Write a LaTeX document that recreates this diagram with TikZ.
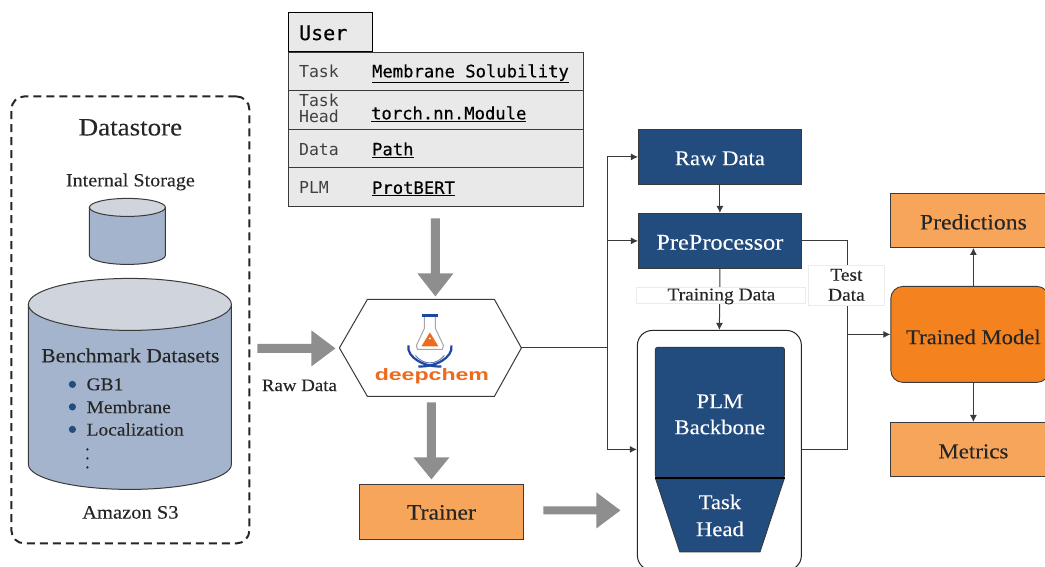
\documentclass[tikz,border=0pt]{standalone}
\usepackage{fontspec}
\setmainfont{Liberation Serif}[FakeStretch=1.08,FakeBold=0.15]
\setmonofont{DejaVu Sans Mono}
\newfontfamily\logofont{Liberation Sans Bold}[FakeStretch=1.4]
\newfontfamily\monomed{DejaVu Sans Mono}[FakeBold=0.35]
\usetikzlibrary{arrows.meta,shapes.geometric,positioning}
\definecolor{navy}{HTML}{224B7E}
\definecolor{lightorange}{HTML}{F6A55A}
\definecolor{deeporange}{HTML}{F4831F}
\definecolor{cylblue}{HTML}{A3B4CC}
\definecolor{cyltop}{HTML}{D0D4DC}
\definecolor{tablegray}{HTML}{E9E9E9}
\definecolor{arrowgray}{HTML}{8E8E8E}
\definecolor{linegray}{HTML}{3A3A3A}
\definecolor{dcorange}{HTML}{EE6A1F}
\definecolor{dcblue}{HTML}{1F47A0}
\newcommand{\lowered}[2]{\raisebox{-#1}[\height][\depth]{#2}}
\tikzset{
  x=1pt,y=-1pt,
  txt/.style={font=\fontsize{#1}{#1}\selectfont,text=black!85,inner sep=0pt},
  bluebox/.style={draw=linegray,line width=.9pt,fill=navy,text=white,inner sep=0pt,font=\fontsize{21}{24}\selectfont,align=center},
  orangebox/.style={draw=linegray,line width=.9pt,fill=lightorange,text=black!85,inner sep=0pt},
  wire/.style={draw=linegray,line width=1pt},
  wirearrow/.style={wire,-{Latex[length=7pt,width=7pt]}},
  bigarrow/.style={draw=none,fill=arrowgray},
  tablecell/.style={draw=linegray,line width=.9pt,fill=tablegray,inner sep=0pt,minimum width=295pt},
  monolabel/.style={font=\ttfamily\fontsize{16.5}{16}\selectfont,text=black!75,inner sep=0pt,anchor=base west,align=left},
  monovalue/.style={font=\monomed\fontsize{17.2}{17}\selectfont,text=black,inner sep=0pt,anchor=base west},
  whitelabel/.style={draw=black!8,line width=.5pt,fill=white,inner sep=0pt,text=black!85,font=\fontsize{18}{20}\selectfont,align=center},
  cylfill/.style={draw=linegray,line width=1pt,fill=cylblue},
  cyltopfill/.style={draw=linegray,line width=1pt,fill=cyltop},
}
\begin{document}
\begin{tikzpicture}
\useasboundingbox (0,0) rectangle (1045,566);
\clip (0,0) rectangle (1045,566);
\fill[white] (0,0) rectangle (1045,566);
\begin{scope}[shift={(-0.6,-0.6)}]
% Datastore
\node[draw=black!85,line width=2pt,dash pattern=on 8pt off 5pt,rounded corners=13pt,minimum width=238pt,minimum height=447pt,inner sep=0pt] (store) at (131,320.5) {};
\node[txt=25] (storetitle) at (131,128) {Datastore};
\node[txt=18.6] (internal) at (131,182.5) {Internal Storage};
% small cylinder
\path[cylfill] (90,208) -- (90,256) arc[start angle=180,end angle=360,x radius=38,y radius=-9] -- (166,208) -- cycle;
\path[cyltopfill] (128,208) ellipse[x radius=38,y radius=9];
% big cylinder
\path[cylfill] (29,305) -- (29,465) arc[start angle=180,end angle=360,x radius=101.5,y radius=-25] -- (232,305) -- cycle;
\path[cyltopfill] (130.5,305) ellipse[x radius=101.5,y radius=26];
\node[txt=20] (bench) at (131,356) {Benchmark Datasets};
\foreach \yy/\tt/\nn in {385/GB1/a,407.5/Membrane/b,430/Localization/c}{
  \fill[navy] (73,\yy) circle[radius=3.6];
  \node[txt=18,anchor=west] (ds\nn) at (87,\yy) {\tt};
}
\foreach \yy in {450,459,468}{\fill[black!85] (88,\yy) circle[radius=1.3];}
\node[txt=19] (s3) at (131,513) {Amazon S3};

% User table
\node[draw=black,line width=1pt,fill=tablegray,minimum width=84pt,minimum height=39pt,inner sep=0pt] (user) at (331,32.5) {};
\node[font=\monomed\fontsize{20}{20}\selectfont,text=black,inner sep=0pt,anchor=west] (usertxt) at (299.5,33.5) {User};
\node[tablecell,minimum height=38pt] (r1) at (436.5,72) {};
\node[tablecell,minimum height=39pt] (r2) at (436.5,110.5) {};
\node[tablecell,minimum height=38pt] (r3) at (436.5,149) {};
\node[tablecell,minimum height=39pt] (r4) at (436.5,187.5) {};
\node[monolabel] (l1) at (299.5,78) {Task};
\node[monolabel] (l2a) at (299.5,107) {Task};
\node[monolabel] (l2b) at (299.5,123.5) {Head};
\node[monolabel] (l3) at (299.5,156) {Data};
\node[monolabel] (l4) at (299.5,194.5) {PLM};
\node[monovalue] (v1) at (372.5,78) {\underline{Membrane Solubility}};
\node[monovalue] (v2) at (371.5,120) {\underline{torch.nn.Module}};
\node[monovalue] (v3) at (372.5,156) {\underline{Path}};
\node[monovalue] (v4) at (372.5,194.5) {\underline{ProtBERT}};

% big gray arrows
\path[bigarrow] (258,344.5) -- (312,344.5) -- (312,331) -- (336,349) -- (312,367) -- (312,353.5) -- (258,353.5) -- cycle;
\path[bigarrow] (431.5,219) -- (431.5,274) -- (418,274) -- (436,297) -- (454,274) -- (440.5,274) -- (440.5,219) -- cycle;
\path[bigarrow] (427.5,403) -- (427.5,458) -- (414,458) -- (432,480) -- (450,458) -- (436.5,458) -- (436.5,403) -- cycle;
\path[bigarrow] (544,507) -- (597,507) -- (597,493) -- (621,511) -- (597,529) -- (597,515) -- (544,515) -- cycle;
\node[txt=17.5] (rawlbl) at (300,386) {Raw Data};

% deepchem hexagon
\coordinate (hexr) at (522,348.5);
\draw[linegray,line width=1pt,fill=white] (340,348.5) -- (368,300) -- (495,300) -- (522,348.5) -- (495,397) -- (368,397) -- cycle;
% logo
\begin{scope}
 \draw[dcblue,line width=2.2pt] (409,346) .. controls (407,358) and (425,368) .. (442,367);
 \draw[dcblue,line width=2.2pt] (452,346) .. controls (454,358) and (436,368) .. (419,367);
 \draw[dcblue!70,line width=1pt] (416,356) .. controls (424,366) and (437,366) .. (445,356);
 \draw[black!35,line width=1pt,fill=white,line join=round] (425,317) -- (425,329) -- (417,346) -- (418,350) -- (443,350) -- (444,346) -- (436,329) -- (436,317);
 \draw[dcblue,line width=2.4pt] (422.5,316) -- (438.5,316);
 \fill[dcorange] (430.5,333) -- (439,347) -- (422,347) -- cycle;
 \fill[white] (430.5,339) circle[radius=1];
\end{scope}
\node[font=\logofont\fontsize{16.5}{17}\selectfont,text=dcorange,inner sep=0pt] (logotext) at (432.5,377) {deepchem};

% Trainer
\node[orangebox,minimum width=164pt,minimum height=55pt,font=\fontsize{22}{24}\selectfont] (trainer) at (442,513) {Trainer};

% Flow boxes
\node[bluebox,minimum width=163pt,minimum height=55pt] (raw) at (720.5,157.5) {\lowered{1.5pt}{Raw Data}};
\node[bluebox,minimum width=163pt,minimum height=55pt,font=\fontsize{22.5}{24}\selectfont] (pre) at (720.5,241.5) {\lowered{1.5pt}{PreProcessor}};
\node[draw=black!85,line width=1pt,fill=white,rounded corners=15pt,minimum width=164pt,minimum height=240pt,inner sep=0pt] (frame) at (720,451) {};
\node[bluebox,rounded corners=2pt,minimum width=129pt,minimum height=130pt] (plm) at (720.5,413) {\lowered{2pt}{PLM}\\[2pt]\lowered{2pt}{Backbone}};
\node[bluebox,trapezium,shape border rotate=180,trapezium stretches=true,trapezium left angle=71,trapezium right angle=71,minimum width=129pt,minimum height=73pt] (head) at (720.5,516) {Task\\[3pt]Head};
\draw[black,line width=1.6pt] (plm.south west) -- (plm.south east);

% Right column
\node[orangebox,minimum width=158pt,minimum height=54pt,anchor=west] (pred) at (891,221) {};
\node[txt=22] (predtxt) at (974,222.5) {Predictions};
\node[draw=linegray,line width=.9pt,fill=deeporange,rounded corners=12pt,minimum width=158pt,minimum height=96pt,anchor=west,inner sep=0pt] (model) at (891,335) {};
\node[txt=21] (modeltxt) at (974,337.5) {Trained Model};
\node[orangebox,minimum width=158pt,minimum height=54pt,anchor=west] (metrics) at (891,450) {};
\node[txt=21.2] (metricstxt) at (974,452) {Metrics};

% junction coordinates
\coordinate (j1) at (608,348.5);
\coordinate (j2) at (848,335);
\coordinate (m1) at (974,287);

% wires
\draw[wire] (hexr) -- (j1);
\draw[wirearrow] (j1) |- (raw.west);
\draw[wirearrow] (j1) |- (pre.west);
\draw[wirearrow] (j1) |- (frame.west |- 0,450);
\draw[wirearrow] (raw.south) -- (pre.north);
\draw[wire] (pre.east) -| (j2);
\draw[wire] (frame.east |- 0,450) -| (j2);
\draw[wirearrow] (j2) -- (model.west);
\draw[wirearrow] (m1) -- (m1 |- pred.south);
\draw[wirearrow] (m1 |- model.south) -- (m1 |- metrics.north);
\draw[wirearrow] (pre.south) -- (frame.north);

% white labels
\node[whitelabel,minimum width=169pt,minimum height=16pt] (train) at (721.5,296) {};
\node[inner sep=0pt,text=black!85,font=\fontsize{18}{20}\selectfont] (traintxt) at (722,297) {Training Data};
\node[whitelabel,minimum width=76pt,minimum height=40pt] (test) at (847,285.5) {Test\\Data};
\end{scope}
\end{tikzpicture}
\end{document}
